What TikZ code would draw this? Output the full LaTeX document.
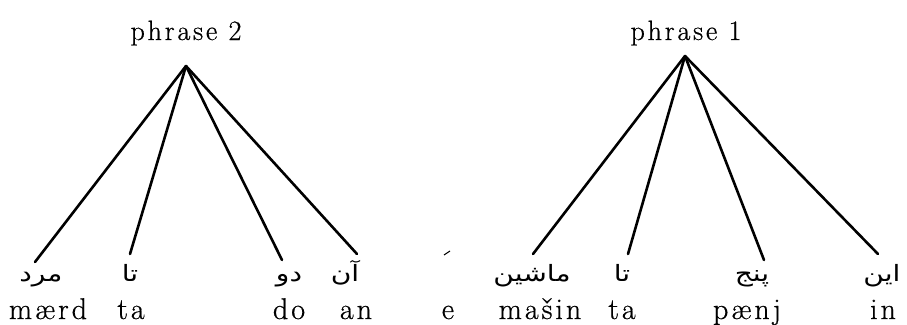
\documentclass[tikz,border=0pt]{standalone}
\usepackage{graphicx}
\usepackage{fontspec}
\newfontfamily\arabicfont[Script=Arabic]{DejaVu Sans}
\newfontfamily\latinsp[LetterSpace=10,FakeBold=0.6]{Latin Modern Roman}
\newcommand{\arword}[1]{\scalebox{1.25}[1]{\arabicfont\beginR #1\endR}}
\TeXXeTstate=1
\begin{document}
\begin{tikzpicture}[x=1pt,y=-1pt,
  lat/.style={anchor=base, inner sep=0pt, font=\fontsize{30}{34}\selectfont\latinsp},
  ar/.style={anchor=base, inner sep=0pt, font=\fontsize{22.5}{26}\selectfont},
  head/.style={anchor=base, inner sep=0pt, font=\fontsize{28}{32}\selectfont\latinsp},
  branch/.style={line width=2.6pt, line cap=round}]
\useasboundingbox (0,0) rectangle (907,324);
% headings
\node[head] (h2) at (186,40) {phrase 2};
\node[head] (h1) at (686,40) {phrase 1};
\coordinate (a2) at (186,66);
\coordinate (a1) at (685,56);
% branch ends
\coordinate (l1) at (35,262);
\coordinate (l2) at (130,254);
\coordinate (l3) at (282,260);
\coordinate (l4) at (357,254);
\coordinate (r1) at (533,254);
\coordinate (r2) at (628,254);
\coordinate (r3) at (764,260);
\coordinate (r4) at (878,254);
\foreach \e in {l1,l2,l3,l4} \draw[branch] (a2) -- (\e);
\foreach \e in {r1,r2,r3,r4} \draw[branch] (a1) -- (\e);
% arabic words
\node[ar] (p1) at (41,281) {\arword{مرد}};
\node[ar] (p2) at (130,281) {\arword{تا}};
\node[ar] (p3) at (289,281) {\arword{دو}};
\node[ar] (p4) at (345,281) {\arword{آن}};
\node[ar] (p5) at (532,281) {\arword{ماشین}};
\node[ar] (p6) at (622,281) {\arword{تا}};
\node[ar] (p7) at (752,281) {\arword{پنج}};
\node[ar] (p8) at (882,281) {\arword{این}};
\coordinate (m1) at (444,255);
\coordinate (m2) at (450,251);
\draw[line width=1pt] (m1) -- (m2);
% transliterations
\node[lat] (t1) at (48,319) {mærd};
\node[lat] (t2) at (131,319) {ta};
\node[lat] (t3) at (289,319) {do};
\node[lat] (t4) at (356,319) {an};
\node[lat] (t5) at (448,319) {e};
\node[lat] (t6) at (540,319) {mašin};
\node[lat] (t7) at (622,319) {ta};
\node[lat] (t8) at (747,319) {pænj};
\node[lat] (t9) at (883,319) {in};
\end{tikzpicture}
\end{document}
